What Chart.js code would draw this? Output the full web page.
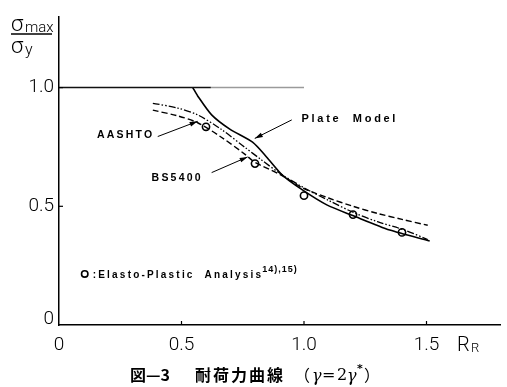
<!DOCTYPE html>
<html><head><meta charset="utf-8">
<script src="https://cdn.jsdelivr.net/npm/chart.js@4"></script>
<style>html,body{margin:0;padding:0;background:#fff}#wrap{width:507px;height:387px;position:relative}</style>
</head><body><div id="wrap"><canvas id="c" width="507" height="387"></canvas></div>
<script>
// ---- data ----
const xTickValues = [0, 0.5, 1.0, 1.5];
const xTickLabels = ['0', '0.5', '1.0', '1.5'];
const yTickValues = [0, 0.5, 1.0];
const yTickLabels = ['0', '0.5', '1.0'];

const limitX = [0, 0.62, 1.0];
const limitY = [1.0, 1.0, 1.0];

const plateX = [0.546, 0.566, 0.623, 0.697, 0.790, 0.847, 0.913, 0.995, 1.093, 1.199, 1.350, 1.513];
const plateY = [1.000, 0.965, 0.885, 0.825, 0.770, 0.708, 0.630, 0.568, 0.506, 0.461, 0.400, 0.354];

const aashtoX = [0.383, 0.484, 0.566, 0.664, 0.758, 0.800, 0.900, 1.000, 1.100, 1.200, 1.300, 1.400, 1.505];
const aashtoY = [0.905, 0.881, 0.852, 0.790, 0.720, 0.685, 0.635, 0.575, 0.535, 0.500, 0.470, 0.445, 0.420];

const bsX = [0.383, 0.484, 0.566, 0.664, 0.758, 0.827, 0.900, 1.000, 1.100, 1.200, 1.300, 1.410, 1.505];
const bsY = [0.934, 0.914, 0.885, 0.823, 0.749, 0.695, 0.640, 0.578, 0.525, 0.475, 0.435, 0.400, 0.360];

const analysisX = [0.6, 0.8, 1.0, 1.2, 1.4];
const analysisY = [0.835, 0.68, 0.545, 0.465, 0.39];

const pts = (xs, ys) => xs.map((v, i) => ({ x: v, y: ys[i] }));

// ---- annotation layout (data coordinates) ----
const notes = [
  { text: 'Plate  Model', x: 0.99, y: 0.866, size: 11, spacing: 2.7, arrow: [0.950, 0.864, 0.799, 0.786] },
  { text: 'AASHTO', x: 0.155, y: 0.800, size: 10.5, spacing: 2.2, arrow: [0.403, 0.794, 0.566, 0.858] },
  { text: 'BS5400', x: 0.378, y: 0.617, size: 10.5, spacing: 2.2, arrow: [0.623, 0.642, 0.770, 0.708] }
];

const FONT_NUM = 'Roboto';

const overlay = {
  id: 'overlay',
  afterDraw(chart) {
    const { ctx, scales: { x, y } } = chart;
    const X = v => x.getPixelForValue(v), Y = v => y.getPixelForValue(v);
    ctx.save();
    ctx.strokeStyle = '#000'; ctx.fillStyle = '#000';
    // inward tick marks
    ctx.lineWidth = 1.2;
    xTickValues.slice(1).forEach(v => { ctx.beginPath(); ctx.moveTo(X(v), Y(0)); ctx.lineTo(X(v), Y(0) - 4); ctx.stroke(); });
    yTickValues.slice(1).forEach(v => { ctx.beginPath(); ctx.moveTo(X(0), Y(v)); ctx.lineTo(X(0) + 4, Y(v)); ctx.stroke(); });

    // annotation texts & arrows
    ctx.textBaseline = 'middle';
    notes.forEach(n => {
      ctx.font = 'bold ' + n.size + 'px "Liberation Sans"';
      ctx.letterSpacing = n.spacing + 'px';
      ctx.textAlign = 'left';
      ctx.fillText(n.text, X(n.x), Y(n.y));
      const [x0, y0, x1, y1] = n.arrow;
      const ax = X(x0), ay = Y(y0), bx = X(x1), by = Y(y1);
      ctx.lineWidth = 1;
      ctx.beginPath(); ctx.moveTo(ax, ay); ctx.lineTo(bx, by); ctx.stroke();
      const ang = Math.atan2(by - ay, bx - ax), L = 8, W = 2.4;
      ctx.beginPath();
      ctx.moveTo(bx, by);
      ctx.lineTo(bx - L * Math.cos(ang) + W * Math.sin(ang), by - L * Math.sin(ang) - W * Math.cos(ang));
      ctx.lineTo(bx - L * Math.cos(ang) - W * Math.sin(ang), by - L * Math.sin(ang) + W * Math.cos(ang));
      ctx.closePath(); ctx.fill();
    });

    // legend for analysis points
    const lx = X(0.105), ly = Y(0.215);
    ctx.lineWidth = 1.6;
    ctx.beginPath(); ctx.arc(lx, ly, 3.2, 0, Math.PI * 2); ctx.stroke();
    ctx.textAlign = 'left';
    ctx.font = 'bold 10px "Liberation Sans"';
    ctx.letterSpacing = '2.2px';
    ctx.fillText(':Elasto-Plastic  Analysis', lx + 8, ly + 1);
    const w = ctx.measureText(':Elasto-Plastic  Analysis').width;
    ctx.font = 'bold 9px "Liberation Sans"';
    ctx.letterSpacing = '1px';
    ctx.fillText('14),15)', lx + 7 + w, ly - 4);

    // y-axis title (fraction)
    ctx.letterSpacing = '0px';
    ctx.textAlign = 'left';
    ctx.font = '300 22px ' + FONT_NUM;
    ctx.fillText('σ', 11, 25);
    ctx.font = '300 15px ' + FONT_NUM;
    ctx.fillText('max', 25, 28);
    ctx.lineWidth = 1.4;
    ctx.beginPath(); ctx.moveTo(11, 34); ctx.lineTo(52, 34); ctx.stroke();
    ctx.font = '300 22px ' + FONT_NUM;
    ctx.fillText('σ', 11, 47);
    ctx.font = '300 16px ' + FONT_NUM;
    ctx.fillText('y', 25, 51);

    // x-axis title R_R
    ctx.font = '300 20px ' + FONT_NUM;
    ctx.fillText('R', 457, 346);
    ctx.font = '300 13px ' + FONT_NUM;
    ctx.fillText('R', 471, 349);

    // caption
    ctx.font = 'bold 16px "Noto Sans CJK JP"';
    ctx.fillText('図—3', 130, 375);
    ctx.letterSpacing = '2px';
    ctx.fillText('耐荷力曲線', 195, 375);
    ctx.letterSpacing = '0px';
    ctx.font = '16px "Noto Sans CJK JP"';
    ctx.fillText('（', 294, 375);
    ctx.font = 'italic 16px "DejaVu Serif"';
    ctx.fillText('γ', 312, 377);
    ctx.font = '16px "DejaVu Serif"';
    ctx.fillText('=', 322, 376);
    ctx.fillText('2', 337, 376);
    ctx.font = 'italic 16px "DejaVu Serif"';
    ctx.fillText('γ', 347, 377);
    ctx.font = 'bold 11px "DejaVu Sans"';
    ctx.fillText('*', 357, 369);
    ctx.font = '16px "Noto Sans CJK JP"';
    ctx.fillText('）', 364, 375);
    ctx.restore();
  }
};

new Chart(document.getElementById('c'), {
  type: 'line',
  data: {
    datasets: [
      { label: 'limit', data: pts(limitX, limitY), borderColor: '#000', borderWidth: 1.5, pointRadius: 0,
        segment: { borderColor: c => c.p0DataIndex === 0 ? '#111' : '#9a9a9a' } },
      { label: 'Plate Model', data: pts(plateX, plateY), borderColor: '#000', borderWidth: 1.6, pointRadius: 0,
        tension: 0.25 },
      { label: 'AASHTO', data: pts(aashtoX, aashtoY), borderColor: '#000', borderWidth: 1.4, pointRadius: 0,
        borderDash: [6, 3], tension: 0.3 },
      { label: 'BS5400', data: pts(bsX, bsY), borderColor: '#000', borderWidth: 1.3, pointRadius: 0,
        borderDash: [7, 2, 1.5, 2, 1.5, 2], tension: 0.3 },
      { label: 'Elasto-Plastic Analysis', data: pts(analysisX, analysisY), showLine: false,
        pointRadius: 3.6, pointBorderWidth: 1.6, pointBackgroundColor: '#fff', pointBorderColor: '#000', borderColor: '#000' }
    ]
  },
  options: {
    responsive: false, animation: false, devicePixelRatio: 1,
    layout: { padding: { top: 8, right: 7, left: 0, bottom: 0 } },
    plugins: { legend: { display: false }, tooltip: { enabled: false } },
    scales: {
      x: {
        type: 'linear', min: 0, max: 1.8,
        afterFit(s) { s.height = 62; },
        afterBuildTicks(s) { s.ticks = xTickValues.map(v => ({ value: v })); },
        ticks: { callback: (v, i) => xTickLabels[i], color: '#000', padding: 9, maxRotation: 0, autoSkip: false,
          font: { family: FONT_NUM, size: 19, weight: '300' } },
        grid: { display: false, drawTicks: false },
        border: { display: true, color: '#000', width: 1.5 }
      },
      y: {
        type: 'linear', min: 0, max: 1.3,
        afterFit(s) { s.width = 59; },
        afterBuildTicks(s) { s.ticks = yTickValues.map(v => ({ value: v })); },
        ticks: {
          callback: (v, i) => v === 0 ? [yTickLabels[i], ''] : yTickLabels[i],
          color: '#000', padding: 5, autoSkip: false,
          font: c => ({ family: FONT_NUM, size: 19, weight: '300', lineHeight: (c.tick && c.tick.value === 0) ? 0.63 : 1.2 })
        },
        grid: { display: false, drawTicks: false },
        border: { display: true, color: '#000', width: 1.5 }
      }
    }
  },
  plugins: [overlay]
});
</script>
</body></html>
